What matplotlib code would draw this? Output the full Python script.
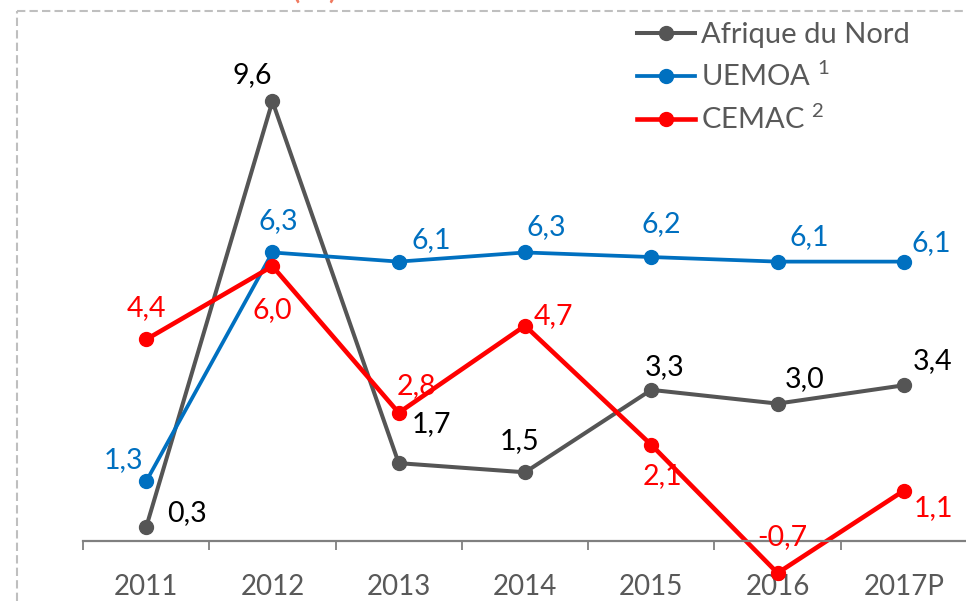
import matplotlib
matplotlib.use('Agg')
import matplotlib.pyplot as plt
from matplotlib.lines import Line2D

plt.rcParams['font.family'] = ['Lato', 'DejaVu Sans']
plt.rcParams['mathtext.default'] = 'regular'
plt.rcParams['mathtext.fontset'] = 'custom'
plt.rcParams['mathtext.rm'] = 'Lato'

# data
years = ['2011', '2012', '2013', '2014', '2015', '2016', '2017P']
afrique_nord = [0.3, 9.6, 1.7, 1.5, 3.3, 3.0, 3.4]
uemoa = [1.3, 6.3, 6.1, 6.3, 6.2, 6.1, 6.1]
cemac = [4.4, 6.0, 2.8, 4.7, 2.1, -0.7, 1.1]

grey = '#555555'
blue = '#0070C0'
red = '#FF0000'
txt_grey = '#595959'

fig = plt.figure(figsize=(9.66, 6.01), dpi=100)
W, H = 966, 601
# axes: x from px 83 to 967, y covers whole height, 0 at px 541, 45.8 px/unit
ax = fig.add_axes([83 / W, 0, 884 / W, 1])
ax.set_xlim(-0.5, 6.5)
ax.set_ylim(-(H - 541) / 45.8, 541 / 45.8)
ax.patch.set_alpha(0)

x = list(range(len(years)))
ax.plot(x, afrique_nord, color=grey, lw=2.9, marker='o', ms=10, label='Afrique du Nord', clip_on=False)
ax.plot(x, uemoa, color=blue, lw=2.7, marker='o', ms=10, label='UEMOA $^{1}$', clip_on=False)
ax.plot(x, cemac, color=red, lw=3.3, marker='o', ms=10, label='CEMAC $^{2}$', clip_on=False)

# data labels, offsets in pixels
off_nord = [(41, 14), (-20, 26), (33, 39), (-5, 31), (13, 23), (27, 25), (29, 24)]
off_uemoa = [(-23, 21), (6, 31), (33, 22), (21, 25), (10, 33), (32, 25), (27, 19)]
off_cemac = [(0, 31), (0, -44), (18, 27), (28, 10), (11, -31), (5, 36), (30, -17)]

for vals, offs, col in [(afrique_nord, off_nord, 'black'),
                        (uemoa, off_uemoa, blue),
                        (cemac, off_cemac, red)]:
    for i, (v, o) in enumerate(zip(vals, offs)):
        ax.annotate(f'{v:.1f}'.replace('.', ','), (i, v), xytext=o,
                    textcoords='offset pixels', ha='center', va='center',
                    fontsize=20.5, color=col)

# axis
for s in ['left', 'right', 'top']:
    ax.spines[s].set_visible(False)
ax.spines['bottom'].set_position(('data', 0))
ax.spines['bottom'].set_color('#808080')
ax.spines['bottom'].set_linewidth(1.6)
ax.set_yticks([])
ax.set_xticks([i - 0.5 for i in range(len(years) + 1)])
ax.set_xticklabels([])
ax.tick_params(axis='x', which='major', direction='out', length=6.5, width=1.3, color='#808080')
ax.set_xticks(x, minor=True)
ax.set_xticklabels(years, minor=True)
ax.tick_params(axis='x', which='minor', length=0, pad=24, labelsize=20, labelcolor=txt_grey)

leg = ax.legend(loc='upper left', bbox_to_anchor=(637 / W, 1 - 22 / H), bbox_transform=fig.transFigure,
                frameon=False, fontsize=21, handlelength=2.0, handletextpad=0.2,
                labelspacing=0.48, borderaxespad=0, borderpad=0)
for t in leg.get_texts():
    t.set_color(txt_grey)

# dashed chart border (partly outside picture)
fig.add_artist(Line2D([17 / W, 17 / W], [0, 1 - 11 / H], transform=fig.transFigure,
                      color='#BFBFBF', lw=1.5, dashes=(4, 2)))
fig.add_artist(Line2D([17 / W, 1], [1 - 11 / H, 1 - 11 / H], transform=fig.transFigure,
                      color='#BFBFBF', lw=1.5, dashes=(4, 2)))
# cut-off title unit
fig.text(315 / W, 1 + 1 / H, '(%)', ha='center', va='baseline', fontsize=26, color='#F07A60')

fig.savefig('out.png', dpi=100)
